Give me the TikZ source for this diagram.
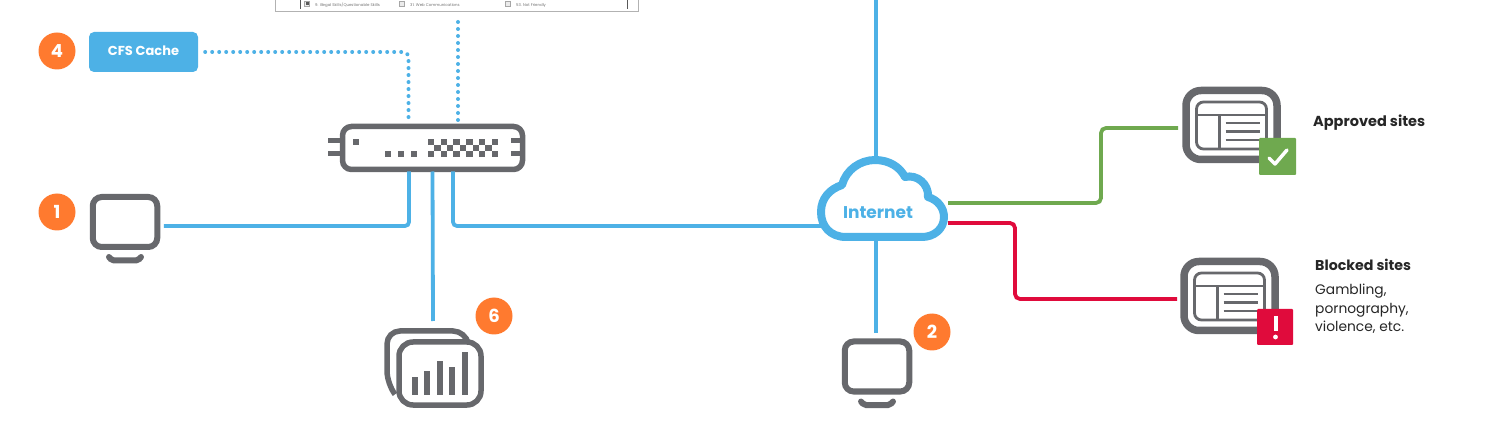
\documentclass[tikz,border=0pt]{standalone}
\usepackage{fontspec}
\setmainfont{Poppins}
\usetikzlibrary{positioning,calc}
\definecolor{wireblue}{HTML}{4DB1E6}
\definecolor{icongrey}{HTML}{67686C}
\definecolor{badgeorange}{HTML}{FF7A2F}
\definecolor{okgreen}{HTML}{6FA94F}
\definecolor{blockred}{HTML}{E00B3C}
\tikzset{
  wire/.style={wireblue,line width=3.8pt,rounded corners=4pt},
  dotwire/.style={wireblue,line width=4pt,line cap=round,dash pattern=on 0pt off 7pt,rounded corners=5pt},
  sitewire/.style={line width=3.8pt,rounded corners=5pt},
  iconline/.style={icongrey,line width=5.5pt},
  badge/.style={circle,fill=badgeorange,text=white,inner sep=0pt,minimum size=37pt,font=\fontsize{18}{18}\selectfont\bfseries},
  monitorbox/.style={draw=icongrey,line width=6pt,rounded corners=9pt,inner sep=0pt,outer sep=0pt,minimum width=64.5pt,minimum height=50pt},
  sitebox/.style={draw=icongrey,line width=7.5pt,rounded corners=15pt,fill=white,inner sep=0pt,outer sep=0pt,minimum width=91pt,minimum height=69pt},
  label/.style={anchor=base west,inner sep=0pt,text=black!85},
}
\begin{document}
\begin{tikzpicture}[x=1pt,y=-1pt]
  \useasboundingbox (0,0) rectangle (1500,430);
  % settings panel, cut by the top edge
  \begin{scope}
    \clip (0,0) rectangle (1500,430);
    \node[draw=black!30,line width=1pt,inner sep=0pt,minimum width=363pt,minimum height=40pt] (panel) at (456.5,-8) {};
    \draw[black!65,line width=0.8pt] (300,0) -- (300,9) (627,0) -- (627,9);
    \foreach \x/\n/\t in {315/panA/{9. Illegal Skills/Questionable Skills},410/panB/31. Web Communications,516/panC/53. Not Friendly} {
      \node[anchor=base west,inner sep=0pt,text=black!55,font=\fontsize{3.9}{4}\selectfont] (\n) at (\x,6.5) {\t};
      \draw[black!35,fill=black!8,line width=0.7pt] (\x-11,1) rectangle ++(5,5);
    }
    \fill[black!65] (305.5,2) rectangle ++(3,3);
  \end{scope}
  % switch
  \node[draw=icongrey,line width=5.5pt,rounded corners=9pt,inner sep=0pt,outer sep=0pt,minimum width=180pt,minimum height=43pt] (switch) at (432.5,148) {};
  \foreach \y in {141,154} {
    \draw[iconline,line width=5pt] (328,\y) -- (340,\y);
    \draw[iconline,line width=5pt] (511,\y) -- (522,\y);
  }
  \fill[icongrey] (352.75,138.75) rectangle ++(6.5,6.5);
  \foreach \x in {388,401,414} {
    \fill[icongrey] (\x-3.25,150.75) rectangle ++(6.5,6.5);
  }
  \foreach \i in {0,1,...,5} {
    \fill[icongrey] (431+\i*12.8-3.25,138.75) rectangle ++(6.5,6.5);
    \fill[icongrey] (431+\i*12.8-3.25,150.75) rectangle ++(6.5,6.5);
  }
  \foreach \i in {0,1,...,4} {
    \fill[icongrey] (437.4+\i*12.8-3.25,144.75) rectangle ++(6.5,6.5);
  }
  % cache box
  \node[fill=wireblue,rounded corners=5pt,inner sep=0pt,minimum width=109pt,minimum height=40pt,text=white,text depth=3pt,font=\fontsize{13}{13}\selectfont\bfseries] (cache) at (143.5,52) {CFS Cache};
  \node[badge] (badgeD) at (57,51) {4};
  % monitors
  \foreach \n/\x/\y in {monA/125/222,monB/877/366.5} {
    \node[monitorbox] (\n) at (\x,\y) {};
    \draw[icongrey,line width=6pt,line cap=round,rounded corners=2pt] (\x-16,\y+35) -- (\x-13,\y+38.5) -- (\x+13,\y+38.5) -- (\x+16,\y+35);
  }
  \node[badge] (badgeA) at (57,212) {1};
  \node[badge] (badgeB) at (932,332) {2};
  % stats
  \draw[iconline,rounded corners=13pt] (394,393) -- (387,384) -- (387,331) -- (466,331) -- (468,342);
  \node[draw=icongrey,line width=5.5pt,rounded corners=14pt,fill=white,inner sep=0pt,outer sep=0pt,minimum width=82pt,minimum height=63pt] (stats) at (440,373.5) {};
  \foreach \x/\h in {415/377,427/371,440/361,452/367,465/352} {
    \fill[icongrey] (\x-3.25,395) rectangle (\x+3.25,\h);
  }
  \node[badge] (badgeF) at (494,316) {6};
  % wires
  \coordinate (topEnd) at (876,0);
  \coordinate (cloudN) at (876,158);
  \coordinate (cloudS) at (876,238);
  \coordinate (cloudW) at (824,226);
  \coordinate (cloudG) at (948,203);
  \coordinate (cloudR) at (948,223);
  \coordinate (dotEnd) at (458,22);
  \coordinate (statsTop) at (433,321);
  \draw[wire] (topEnd) -- (cloudN);
  \draw[wire,shorten <=6.5pt] ([yshift=-4pt]monA.east) -| ([xshift=-23.5pt,yshift=-2pt]switch.south);
  \draw[wire] ([yshift=-2pt]switch.south) -- (statsTop);
  \draw[wire] ([xshift=20.5pt,yshift=-2pt]switch.south) |- (cloudW);
  \draw[wire,shorten >=8pt] (cloudS) -- (cloudS |- monB.north);
  \draw[dotwire,shorten <=7pt] (cache.east) -| ([xshift=-24pt,yshift=6pt]switch.north);
  \draw[dotwire] (dotEnd) -- ([xshift=25.5pt,yshift=6pt]switch.north);
  % sites
  \foreach \n/\x/\y in {siteA/1181.5/87,siteB/1179.5/258} {
    \begin{scope}[shift={(\x,\y)}]
      \node[sitebox] (\n) at (50,38) {};
      \draw[icongrey,line width=2.8pt,rounded corners=7pt] (15,15) rectangle (85,62);
      \draw[icongrey,line width=2.8pt] (15,28) -- (85,28) (38,28) -- (38,62);
      \foreach \l in {36,44.5,53} {
        \draw[icongrey,line width=2.8pt] (44,\l) -- (78,\l);
      }
    \end{scope}
  }
  \node[fill=okgreen,rounded corners=1pt,inner sep=0pt,minimum size=37pt] (okbox) at (1277.5,156.5) {};
  \draw[white,line width=3.5pt,line cap=round,line join=round] (1269,158) -- (1275,164) -- (1287,150);
  \node[fill=blockred,rounded corners=1pt,inner sep=0pt,minimum size=36pt] (badbox) at (1275,327) {};
  \draw[white,line width=4pt] (1275.5,316) -- (1275.5,331);
  \fill[white] (1275.5,337) circle (2.4);
  \draw[sitewire,okgreen,shorten >=8pt] (cloudG) -- (1101,203) -- (1101,128) -- ([yshift=-3pt]siteA.west);
  \draw[sitewire,blockred,shorten >=7pt] (cloudR) -- (1015,223) -- (1015,299) -- ([yshift=-3pt]siteB.west);
  % cloud
  \draw[wireblue,line width=8pt,fill=white,line join=round] (846,237)
    .. controls (830,237) and (821,226) .. (821,212)
    .. controls (821,198) and (830,189) .. (842,185)
    .. controls (846,170) and (860,160) .. (875,160)
    .. controls (889,160) and (900,167) .. (905,177)
    .. controls (917,174) and (929,184) .. (928,197)
    .. controls (938,200) and (944,208) .. (944,217)
    .. controls (944,229) and (934,237) .. (922,237)
    -- cycle;
  \node[text=wireblue,font=\fontsize{17}{17}\selectfont\bfseries] (inet) at (878,212.5) {Internet};
  % labels
  \node[label,font=\fontsize{14.5}{15}\selectfont\bfseries] (approved) at (1313,127) {Approved sites};
  \node[label,font=\fontsize{14.2}{15}\selectfont\bfseries] (blocked) at (1315,271) {Blocked sites};
  \node[label,font=\fontsize{13.8}{15}\selectfont] (gambling) at (1315,295) {Gambling,};
  \node[label,font=\fontsize{13.8}{15}\selectfont] (porn) at (1315,314) {pornography,};
  \node[label,font=\fontsize{13.8}{15}\selectfont] (violence) at (1315,332) {violence, etc.};
\end{tikzpicture}
\end{document}
